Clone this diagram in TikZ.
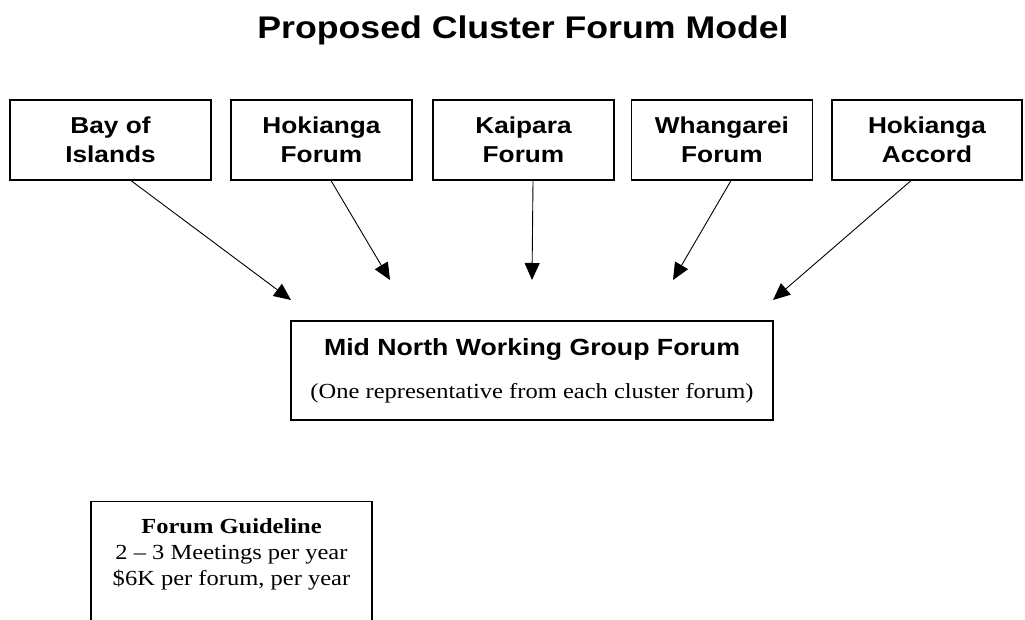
\documentclass[tikz,border=0pt]{standalone}
\usepackage{fontspec}
\setmainfont{Liberation Serif}[FakeStretch=1.14]
\newfontfamily\arialfont{Liberation Sans}[FakeStretch=1.14]
\usetikzlibrary{arrows.meta}

\begin{document}
\begin{tikzpicture}[x=1pt,y=-1pt,
		forum/.style={draw, line width=1.2pt, minimum height=80pt, inner sep=0pt, align=center,
			font=\arialfont\bfseries\fontsize{23}{29.5}\selectfont},
		link/.style={line width=0.9pt, -{Triangle[length=17pt,width=15pt]}}]
		\useasboundingbox (0,0) rectangle (1025,619);
		\clip (0,0) rectangle (1025,619);
		
		\node[anchor=base, font=\arialfont\bfseries\fontsize{31.3}{36}\selectfont] (title) at (523,38) {Proposed Cluster Forum Model};
		
		% cluster forums
		\foreach \n/\x/\w/\txt in {bay/110.5/201/{Bay of\\Islands}, hok/321.5/181/{Hokianga\\Forum},
			kai/523.5/181/{Kaipara\\Forum}, wha/722/181/{Whangarei\\Forum}, acc/927/190/{Hokianga\\Accord}}
			\node[forum, minimum width=\w pt] (\n) at (\x,140) {\txt};
		
		\node[draw, line width=1.2pt, minimum width=482pt, minimum height=99pt, inner sep=0pt, align=center,
			font=\fontsize{21.5}{43}\selectfont] (mid) at (532,370.5)
			{{\arialfont\bfseries\fontsize{23.4}{43}\selectfont Mid North Working Group Forum}\\(One representative from each cluster forum)};
		
		\path	(291,300) coordinate (t1)
			(390,280) coordinate (t2)
			(532,280) coordinate (t3)
			(673,280) coordinate (t4)
			(773,300) coordinate (t5);
		\draw[link] ([xshift=20.5pt]bay.south) -- (t1);
		\draw[link] ([xshift=9.5pt]hok.south) -- (t2);
		\draw[link] ([xshift=9.5pt]kai.south) -- (t3);
		\draw[link] ([xshift=9pt]wha.south) -- (t4);
		\draw[link] ([xshift=-16pt]acc.south) -- (t5);
		
		% guideline box, runs off the page
		\node[draw, line width=1.2pt, anchor=north, minimum width=281pt, minimum height=160pt] (guide) at (231.5,501) {};
		\node[anchor=north, align=center, inner sep=0pt, font=\fontsize{21.5}{26}\selectfont] (guidetext) at ([yshift=-17pt]guide.north)
			{\textbf{Forum Guideline}\\2 -- 3 Meetings per year\\\$6K per forum, per year};
	\end{tikzpicture}
\end{document}
